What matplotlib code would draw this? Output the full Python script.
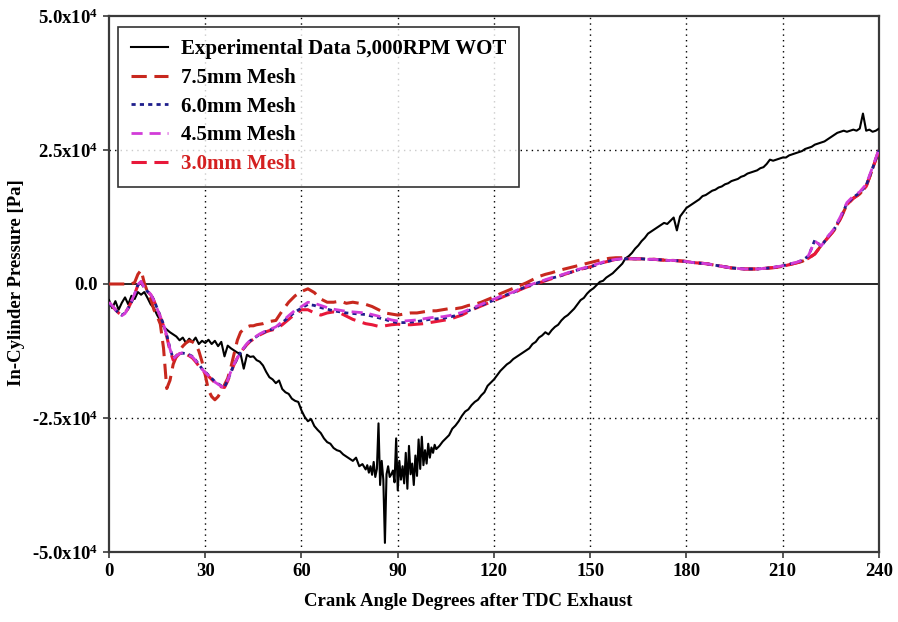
import numpy as np
import matplotlib
matplotlib.use("Agg")
import matplotlib.pyplot as plt

plt.rcParams['font.family'] = ['Liberation Serif', 'DejaVu Serif']
plt.rcParams['font.weight'] = 'bold'
plt.rcParams['mathtext.fontset'] = 'custom'
plt.rcParams['mathtext.rm'] = 'Liberation Serif:bold'
plt.rcParams['mathtext.bf'] = 'Liberation Serif:bold'
plt.rcParams['mathtext.it'] = 'Liberation Serif:bold:italic'

# ---------------- data (pressure in kPa, i.e. x1000 Pa) ----------------
exp_angle_a = list(range(0, 80))
exp_p_a = [-3.0, -4.5, -3.2, -4.8, -3.5, -2.5, -3.8, -2.2, -2.8, -1.5,
           -2.0, -1.5, -2.6, -3.8, -4.5, -5.8, -6.8, -8.0, -8.5, -9.0,
           -9.4, -9.8, -10.5, -10.0, -11.0, -10.2, -10.8, -10.0, -11.2, -10.6,
           -11.0, -10.4, -11.2, -10.6, -11.6, -10.8, -13.5, -11.5, -12.0, -12.4,
           -12.8, -13.0, -15.8, -13.2, -13.6, -13.5, -14.2, -14.5, -15.2, -16.4,
           -17.4, -17.8, -18.5, -18.0, -19.6, -20.2, -20.5, -21.4, -21.8, -22.0,
           -23.6, -24.8, -25.6, -25.2, -26.5, -27.2, -27.8, -28.8, -29.5, -29.8,
           -30.6, -31.0, -31.2, -31.8, -32.2, -32.6, -33.0, -32.4, -34.0, -33.6]
exp_angle_b = [80 + 0.5 * i for i in range(45)]
exp_p_b = [-34.6, -33.8, -35.2, -34.0, -35.6, -33.2, -36.0, -34.5, -26.0, -37.5,
           -33.0, -36.5, -48.3, -35.5, -34.0, -36.0, -35.5, -34.8, -37.0, -28.8,
           -38.5, -33.0, -36.5, -34.0, -37.2, -31.5, -38.2, -30.2, -35.5, -33.5,
           -37.5, -32.0, -35.8, -29.0, -34.5, -28.5, -33.8, -31.0, -33.5, -29.8,
           -32.4, -30.5, -31.5, -30.0, -30.8]
exp_angle_c = list(range(103, 241))
exp_p_c = [-30.2, -29.4, -28.8, -28.2, -27.0, -26.4, -25.6, -24.6, -23.8, -23.4,
           -22.6, -22.0, -21.6, -20.8, -20.2, -19.0, -18.4, -17.8,
           -17.0, -16.2, -15.6, -15.0, -14.6, -14.0, -13.6, -13.2, -12.8, -12.4,
           -12.0, -11.2, -10.8, -10.0, -9.6, -9.0, -9.4, -8.6, -8.0, -7.6,
           -6.8, -6.2, -5.8, -5.2, -4.6, -3.8, -3.0, -2.6, -1.8, -1.2,
           -0.8, -0.2, 0.4, 0.6, 1.2, 1.6, 2.0, 2.6, 3.2, 3.8,
           4.8, 5.2, 5.8, 6.6, 7.2, 8.0, 8.6, 9.4, 9.8, 10.2,
           10.6, 11.0, 11.4, 11.2, 11.8, 12.4, 10.0, 12.6, 13.4, 14.2,
           14.6, 15.0, 15.4, 15.8, 16.4, 16.6, 17.0, 17.4, 17.6, 18.0,
           18.2, 18.6, 18.8, 19.2, 19.4, 19.6, 20.0, 20.2, 20.6, 20.8,
           21.0, 21.2, 21.6, 21.8, 22.4, 23.2, 23.0, 23.2, 23.4, 23.6,
           23.6, 24.0, 24.2, 24.4, 24.6, 24.8, 25.2, 25.4, 25.6, 26.0,
           26.2, 26.4, 26.6, 27.0, 27.4, 27.8, 28.2, 28.4, 28.6, 28.4,
           28.6, 28.8, 28.6, 29.0, 31.8, 28.6, 28.8, 28.4, 28.6, 29.0]
exp_angle = exp_angle_a + exp_angle_b + exp_angle_c
exp_pressure = exp_p_a + exp_p_b + exp_p_c

sim_angle = list(range(0, 51)) + list(range(52, 241, 2))

mesh_75 = [0, 0, 0, 0, 0, 0, 0, 0, 0.3, 1.8,
           2.6, 0.2, -1.5, -2.8, -4.8, -6.0, -7.5, -12.0, -19.5, -18.0,
           -15.0, -13.5, -12.4, -11.6, -11.0, -10.6, -10.8, -11.2, -12.5, -14.5,
           -17.0, -19.8, -21.0, -21.6, -21.0, -20.0, -18.8, -17.6, -15.5, -13.0,
           -10.5, -9.0, -8.4, -8.0, -7.8, -7.8, -7.6, -7.5, -7.4, -7.2, -7.0,
           -6.8, -5.0, -3.4, -2.2, -1.4, -0.9, -1.6, -2.8, -3.4, -3.4,
           -3.2, -3.6, -3.4, -3.6, -3.8, -4.2, -4.8, -5.4, -5.6, -5.8,
           -5.6, -5.4, -5.4, -5.2, -5.0, -5.0, -4.8, -4.6, -4.6, -4.4,
           -4.0, -3.8, -3.4, -2.9, -2.4, -1.8, -1.3, -0.8, -0.3, 0.2,
           0.8, 1.4, 1.8, 2.1, 2.5, 2.8, 3.1, 3.4, 3.7, 4.0,
           4.3, 4.6, 4.8, 4.9, 4.9, 4.8, 4.7, 4.7, 4.6, 4.6,
           4.5, 4.4, 4.4, 4.3, 4.2, 4.0, 3.9, 3.8, 3.6, 3.4,
           3.2, 3.0, 2.9, 2.8, 2.8, 2.8, 2.9, 3.0, 3.1, 3.3,
           3.6, 3.9, 4.2, 4.8, 5.6, 7.2, 8.6, 10.0, 12.2, 14.8,
           16.0, 16.8, 18.2, 21.5, 25.0]

mesh_60 = [-3.6, -4.2, -4.8, -5.4, -5.8, -5.4, -4.5, -3.4, -1.9, -0.2,
           0.4, -0.8, -1.4, -1.9, -3.0, -4.5, -6.0, -7.5, -9.5, -12.0,
           -13.9, -13.4, -13.0, -12.9, -13.0, -13.2, -13.5, -14.2, -15.0, -15.8,
           -16.4, -17.0, -17.6, -18.2, -18.6, -19.0, -19.2, -18.0, -16.4, -15.0,
           -13.9, -12.8, -12.0, -11.2, -10.6, -10.2, -9.8, -9.4, -9.1, -8.8, -8.6,
           -8.2, -7.2, -6.2, -5.2, -4.5, -3.8, -4.0, -4.4, -4.7, -5.0,
           -5.2, -5.4, -5.5, -5.6, -5.7, -6.0, -6.3, -6.6, -7.0, -7.2,
           -7.2, -7.1, -7.0, -6.8, -6.6, -6.5, -6.4, -6.2, -5.9, -5.5,
           -5.0, -4.5, -4.0, -3.5, -3.0, -2.5, -2.0, -1.6, -1.0, -0.5,
           -0.1, 0.3, 0.7, 1.1, 1.4, 1.8, 2.2, 2.6, 2.9, 3.2,
           3.6, 4.0, 4.3, 4.6, 4.7, 4.7, 4.7, 4.7, 4.6, 4.6,
           4.5, 4.4, 4.4, 4.3, 4.2, 4.0, 3.9, 3.8, 3.6, 3.4,
           3.2, 3.0, 2.9, 2.8, 2.8, 2.8, 2.9, 3.0, 3.2, 3.4,
           3.7, 4.0, 4.4, 5.2, 8.2, 7.0, 8.8, 10.2, 12.4, 15.0,
           16.2, 17.0, 18.4, 21.6, 25.0]

mesh_45 = [-3.4, -4.0, -4.8, -5.4, -5.9, -5.5, -4.4, -3.2, -1.8, -0.1,
           0.5, -0.7, -1.3, -1.9, -3.1, -4.6, -6.1, -7.6, -9.6, -12.1,
           -14.0, -13.4, -13.0, -12.8, -13.0, -13.3, -13.6, -14.3, -15.1, -15.9,
           -16.5, -17.1, -17.7, -18.3, -18.7, -19.1, -19.2, -17.9, -16.3, -14.9,
           -13.8, -12.7, -11.9, -11.1, -10.5, -10.1, -9.7, -9.3, -9.0, -8.7, -8.5,
           -8.0, -7.0, -5.9, -4.9, -4.2, -3.4, -3.6, -4.0, -4.4, -4.7,
           -4.9, -5.1, -5.2, -5.3, -5.4, -5.7, -6.0, -6.3, -6.7, -6.9,
           -6.9, -6.8, -6.7, -6.5, -6.3, -6.2, -6.1, -5.9, -5.6, -5.3,
           -4.8, -4.3, -3.8, -3.3, -2.8, -2.3, -1.9, -1.5, -0.9, -0.4,
           0.0, 0.4, 0.8, 1.2, 1.5, 1.9, 2.3, 2.7, 3.0, 3.3,
           3.7, 4.1, 4.4, 4.6, 4.7, 4.7, 4.7, 4.7, 4.6, 4.6,
           4.5, 4.4, 4.4, 4.3, 4.2, 4.0, 3.9, 3.8, 3.6, 3.4,
           3.2, 3.0, 2.9, 2.8, 2.8, 2.8, 2.9, 3.0, 3.2, 3.4,
           3.7, 4.0, 4.4, 5.3, 8.0, 7.1, 8.8, 10.3, 12.6, 15.2,
           16.4, 17.2, 18.6, 21.8, 25.2]

mesh_30 = [-3.5, -4.1, -4.8, -5.4, -5.8, -5.4, -4.5, -3.3, -1.9, -0.2,
           0.4, -0.8, -1.4, -2.0, -3.1, -4.6, -6.2, -7.8, -9.8, -12.4,
           -14.2, -13.6, -13.0, -12.8, -13.1, -13.4, -13.8, -14.5, -15.3, -16.0,
           -16.6, -17.2, -17.8, -18.4, -18.8, -19.2, -19.3, -18.1, -16.5, -15.0,
           -13.8, -12.8, -12.0, -11.3, -10.7, -10.3, -9.9, -9.5, -9.2, -8.9, -8.7,
           -8.4, -7.6, -6.6, -5.6, -4.8, -4.8, -5.4, -5.8, -5.4, -5.2,
           -5.4, -6.0, -6.6, -7.0, -7.4, -7.6, -7.9, -7.8, -7.6, -7.5,
           -7.6, -7.6, -7.5, -7.4, -7.2, -7.0, -6.8, -6.6, -6.2, -5.8,
           -5.2, -4.6, -4.1, -3.6, -3.1, -2.6, -2.1, -1.7, -1.1, -0.6,
           -0.2, 0.2, 0.6, 1.0, 1.4, 1.8, 2.2, 2.6, 2.9, 3.2,
           3.6, 4.0, 4.3, 4.6, 4.7, 4.7, 4.7, 4.7, 4.6, 4.6,
           4.5, 4.4, 4.4, 4.3, 4.2, 4.0, 3.9, 3.8, 3.6, 3.4,
           3.2, 3.0, 2.9, 2.8, 2.8, 2.8, 2.9, 3.0, 3.1, 3.3,
           3.6, 3.9, 4.2, 4.8, 5.6, 7.2, 8.6, 10.0, 12.2, 14.8,
           16.0, 16.8, 18.2, 21.5, 25.0]

x_ticks = [0, 30, 60, 90, 120, 150, 180, 210, 240]
y_ticks = [-50000, -25000, 0, 25000, 50000]
y_tick_labels = ['-5.0x10$^{4}$', '-2.5x10$^{4}$', '0.0', '2.5x10$^{4}$', '5.0x10$^{4}$']
series_labels = ['Experimental Data 5,000RPM WOT', '7.5mm Mesh', '6.0mm Mesh',
                 '4.5mm Mesh', '3.0mm Mesh']

# ---------------- plot ----------------
W, H = 898, 622
fig = plt.figure(figsize=(W / 100, H / 100), dpi=100)
ax = fig.add_axes([109 / W, 1 - 552 / H, 770 / W, 536 / H])

kpa = 1000.0
ax.plot(exp_angle, np.array(exp_pressure) * kpa, color='black', lw=1.5,
        label=series_labels[0], zorder=3)
ax.plot(sim_angle, np.array(mesh_75) * kpa, color='#c8281e', lw=2.2,
        dashes=(5, 2.5), label=series_labels[1], zorder=4)
ax.plot(sim_angle, np.array(mesh_60) * kpa, color='#1e1e8c', lw=2.0,
        dashes=(1.5, 1.5), label=series_labels[2], zorder=5)
ax.plot(sim_angle, np.array(mesh_45) * kpa, color='#d23cd8', lw=2.0,
        dashes=(4, 2.5), label=series_labels[3], zorder=5)
ax.plot(sim_angle, np.array(mesh_30) * kpa, color='#e8183a', lw=2.2,
        dashes=(5, 2.5), label=series_labels[4], zorder=4)

ax.axhline(0, color='black', lw=1.2, zorder=2)

ax.set_xlim(0, 240)
ax.set_ylim(-50000, 50000)
ax.set_xticks(x_ticks)
ax.set_xticklabels([str(v) for v in x_ticks])
ax.set_yticks(y_ticks)
ax.set_yticklabels(y_tick_labels)

for v in x_ticks[1:-1]:
    ax.axvline(v, color='black', lw=1.0, ls=(0, (1, 3)), zorder=1)
for v in [-25000, 25000]:
    ax.axhline(v, color='black', lw=1.0, ls=(0, (1, 3)), zorder=1)

for s in ax.spines.values():
    s.set_color('#3a3a3a')
    s.set_linewidth(1.6)
ax.tick_params(direction='out', length=4, width=1.2, color='#3a3a3a',
               labelsize=13.5, pad=4)
for lab in ax.get_xticklabels() + ax.get_yticklabels():
    lab.set_fontweight('bold')

fig.text(468 / W, 1 - 602 / H, 'Crank Angle Degrees after TDC Exhaust',
         fontsize=13.5, fontweight='bold', ha='center', va='center')
fig.text(17 / W, 1 - 283 / H, 'In-Cylinder Pressure [Pa]', rotation=90,
         fontsize=13.5, fontweight='bold', ha='center', va='center')

leg = ax.legend(loc='upper left', bbox_to_anchor=(0.012, 0.98), borderaxespad=0,
                fontsize=15, frameon=True, fancybox=False, edgecolor='black',
                handlelength=1.8, handletextpad=0.6, labelspacing=0.42,
                borderpad=0.6)
leg.get_frame().set_linewidth(1.2)
for t in leg.get_texts():
    t.set_fontweight('bold')
leg.get_texts()[4].set_color('#d42020')

fig.savefig('out.png', dpi=100)
